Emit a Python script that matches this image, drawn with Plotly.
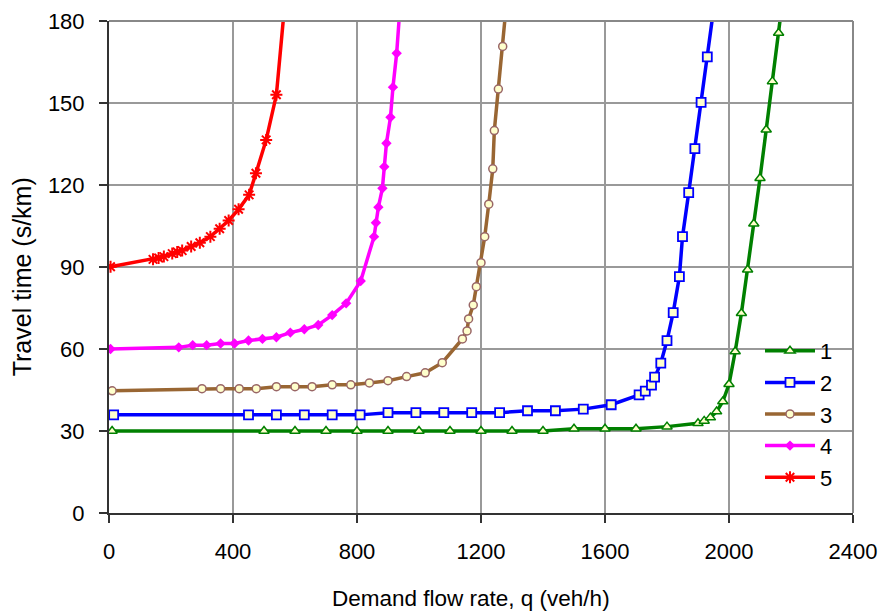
import plotly.graph_objects as go

# ---- data ----
q1 = [10, 500, 600, 700, 800, 900, 1000, 1100, 1200, 1300, 1400, 1500, 1600, 1700, 1800,
      1900, 1920, 1940, 1960, 1980, 2000, 2020, 2040, 2060, 2080, 2100, 2120, 2140, 2160, 2180]
t1 = [30, 30, 30, 30, 30, 30, 30, 30, 30, 30, 30, 30.8, 30.8, 30.8, 31.6,
      32.8, 33.7, 34.9, 37.1, 40.8, 47.1, 59.1, 73.1, 89.0, 105.8, 122.5, 140.2, 157.9, 175.6, 194]

q2 = [15, 450, 540, 630, 720, 810, 900, 990, 1080, 1170, 1260, 1350, 1440, 1530, 1620,
      1710, 1730, 1750, 1760, 1780, 1800, 1820, 1840, 1850, 1870, 1890, 1910, 1930, 1950]
t2 = [35.9, 35.9, 35.9, 35.9, 35.9, 35.9, 36.7, 36.7, 36.7, 36.7, 36.7, 37.4, 37.4, 38.0, 39.6,
      43.2, 44.6, 46.8, 49.7, 54.8, 63.1, 73.3, 86.5, 101.1, 117.2, 133.3, 150.2, 166.9, 184]

q3 = [10, 300, 360, 420, 475, 540, 600, 655, 720, 780, 840, 900, 960, 1020, 1075,
      1140, 1155, 1160, 1175, 1185, 1200, 1212, 1225, 1238, 1243, 1256, 1270, 1280]
t3 = [44.7, 45.5, 45.5, 45.5, 45.5, 46.2, 46.2, 46.2, 46.9, 46.9, 47.6, 48.4, 49.9, 51.3, 55.0,
      63.7, 66.6, 71.0, 76.1, 82.8, 91.6, 101.1, 113.0, 125.9, 139.9, 155.1, 170.7, 184]

q4 = [5, 225, 270, 315, 360, 405, 450, 495, 540, 585, 630, 675, 720, 765, 812,
      855, 861, 869, 882, 888, 895, 908, 916, 928, 938]
t4 = [60.0, 60.6, 61.4, 61.4, 62.0, 62.0, 63.1, 63.7, 64.3, 66.0, 67.2, 68.8, 72.4, 76.7, 84.9,
      101.1, 106.2, 111.9, 118.8, 126.7, 135.3, 144.8, 155.8, 168.2, 184]

q5 = [5, 142, 160, 177, 204, 220, 236, 265, 293, 327, 357, 386, 418, 452, 474, 507, 540, 570]
t5 = [90.1, 92.8, 93.3, 93.8, 94.9, 95.5, 96.0, 97.5, 98.9, 101.1, 104.0, 107.0, 111.1,
      116.4, 124.3, 136.5, 153.0, 190]

names = ["1", "2", "3", "4", "5"]
x_ticks = [0, 400, 800, 1200, 1600, 2000, 2400]
y_ticks = [0, 30, 60, 90, 120, 150, 180]
x_title = "Demand flow rate, q (veh/h)"
y_title = "Travel time (s/km)"

FONT = "Arial, Liberation Sans, sans-serif"
fill = "#FFFFCC"

fig = go.Figure()
fig.add_trace(go.Scatter(x=q1, y=t1, name=names[0], mode="lines+markers",
                         line=dict(color="#008000", width=3.5),
                         marker=dict(symbol="triangle-up", size=9, color=fill,
                                     line=dict(color="#008000", width=1.5))))
fig.add_trace(go.Scatter(x=q2, y=t2, name=names[1], mode="lines+markers",
                         line=dict(color="#0000FF", width=3.5),
                         marker=dict(symbol="square", size=9, color=fill,
                                     line=dict(color="#0000FF", width=1.8))))
fig.add_trace(go.Scatter(x=q3, y=t3, name=names[2], mode="lines+markers",
                         line=dict(color="#996633", width=3.5),
                         marker=dict(symbol="circle", size=8, color=fill,
                                     line=dict(color="#996666", width=1.5))))
fig.add_trace(go.Scatter(x=q4, y=t4, name=names[3], mode="lines+markers",
                         line=dict(color="#FF00FF", width=3.5),
                         marker=dict(symbol="diamond", size=8, color="#FF00FF")))
fig.add_trace(go.Scatter(x=q5, y=t5, name=names[4], mode="lines+markers",
                         line=dict(color="#FF0000", width=3.5),
                         marker=dict(symbol="asterisk-open", size=10,
                                     line=dict(color="#FF0000", width=2))))

fig.update_layout(
    width=882, height=613,
    margin=dict(l=109, r=29, t=21, b=100, autoexpand=False),
    paper_bgcolor="white", plot_bgcolor="white",
    font=dict(family=FONT, size=22, color="black"),
    showlegend=True,
    legend=dict(x=0.875, y=0.372, xanchor="left", yanchor="top",
                bgcolor="rgba(0,0,0,0)", borderwidth=0, itemwidth=50,
                font=dict(family=FONT, size=22, color="black"),
                traceorder="normal"),
)
fig.update_xaxes(range=[0, 2400], tickvals=x_ticks, ticktext=[str(v) for v in x_ticks],
                 showgrid=True, gridcolor="#999999", gridwidth=1.5,
                 showline=True, linecolor="#333333", linewidth=2, mirror=False,
                 ticks="outside", ticklen=8, tickcolor="#333333", tickwidth=1.5,
                 ticklabelstandoff=10,
                 tickfont=dict(family=FONT, size=22),
                 zeroline=False, automargin=False)
fig.update_yaxes(range=[0, 180], tickvals=y_ticks, ticktext=[str(v) for v in y_ticks],
                 showgrid=True, gridcolor="#999999", gridwidth=1.5,
                 showline=True, linecolor="#333333", linewidth=2, mirror=False,
                 ticks="outside", ticklen=8, tickcolor="#333333", tickwidth=1.5,
                 ticklabelstandoff=10,
                 tickfont=dict(family=FONT, size=22),
                 zeroline=False, automargin=False)

# axis titles placed as in the reference
fig.add_annotation(text=x_title, xref="paper", yref="paper", x=0.4866, y=-0.1728,
                   xanchor="center", yanchor="middle", showarrow=False,
                   font=dict(family=FONT, size=22.5, color="black"))
fig.add_annotation(text=y_title, xref="paper", yref="paper", x=-0.117, y=0.481,
                   xanchor="center", yanchor="middle", showarrow=False, textangle=-90,
                   font=dict(family=FONT, size=25, color="black"))

# white legend area hiding the gridlines (drawn between grid and traces)
fig.add_shape(type="rect", xref="paper", yref="paper", x0=0.856, x1=0.997, y0=0.025, y1=0.372,
              fillcolor="white", line=dict(width=0), layer="between")
# grey frame on top and right
fig.add_shape(type="line", xref="paper", yref="paper", x0=0, x1=1, y0=1, y1=1,
              line=dict(color="#888888", width=2))
fig.add_shape(type="line", xref="paper", yref="paper", x0=1, x1=1, y0=0, y1=1,
              line=dict(color="#888888", width=2))

fig.write_html("out.html")
